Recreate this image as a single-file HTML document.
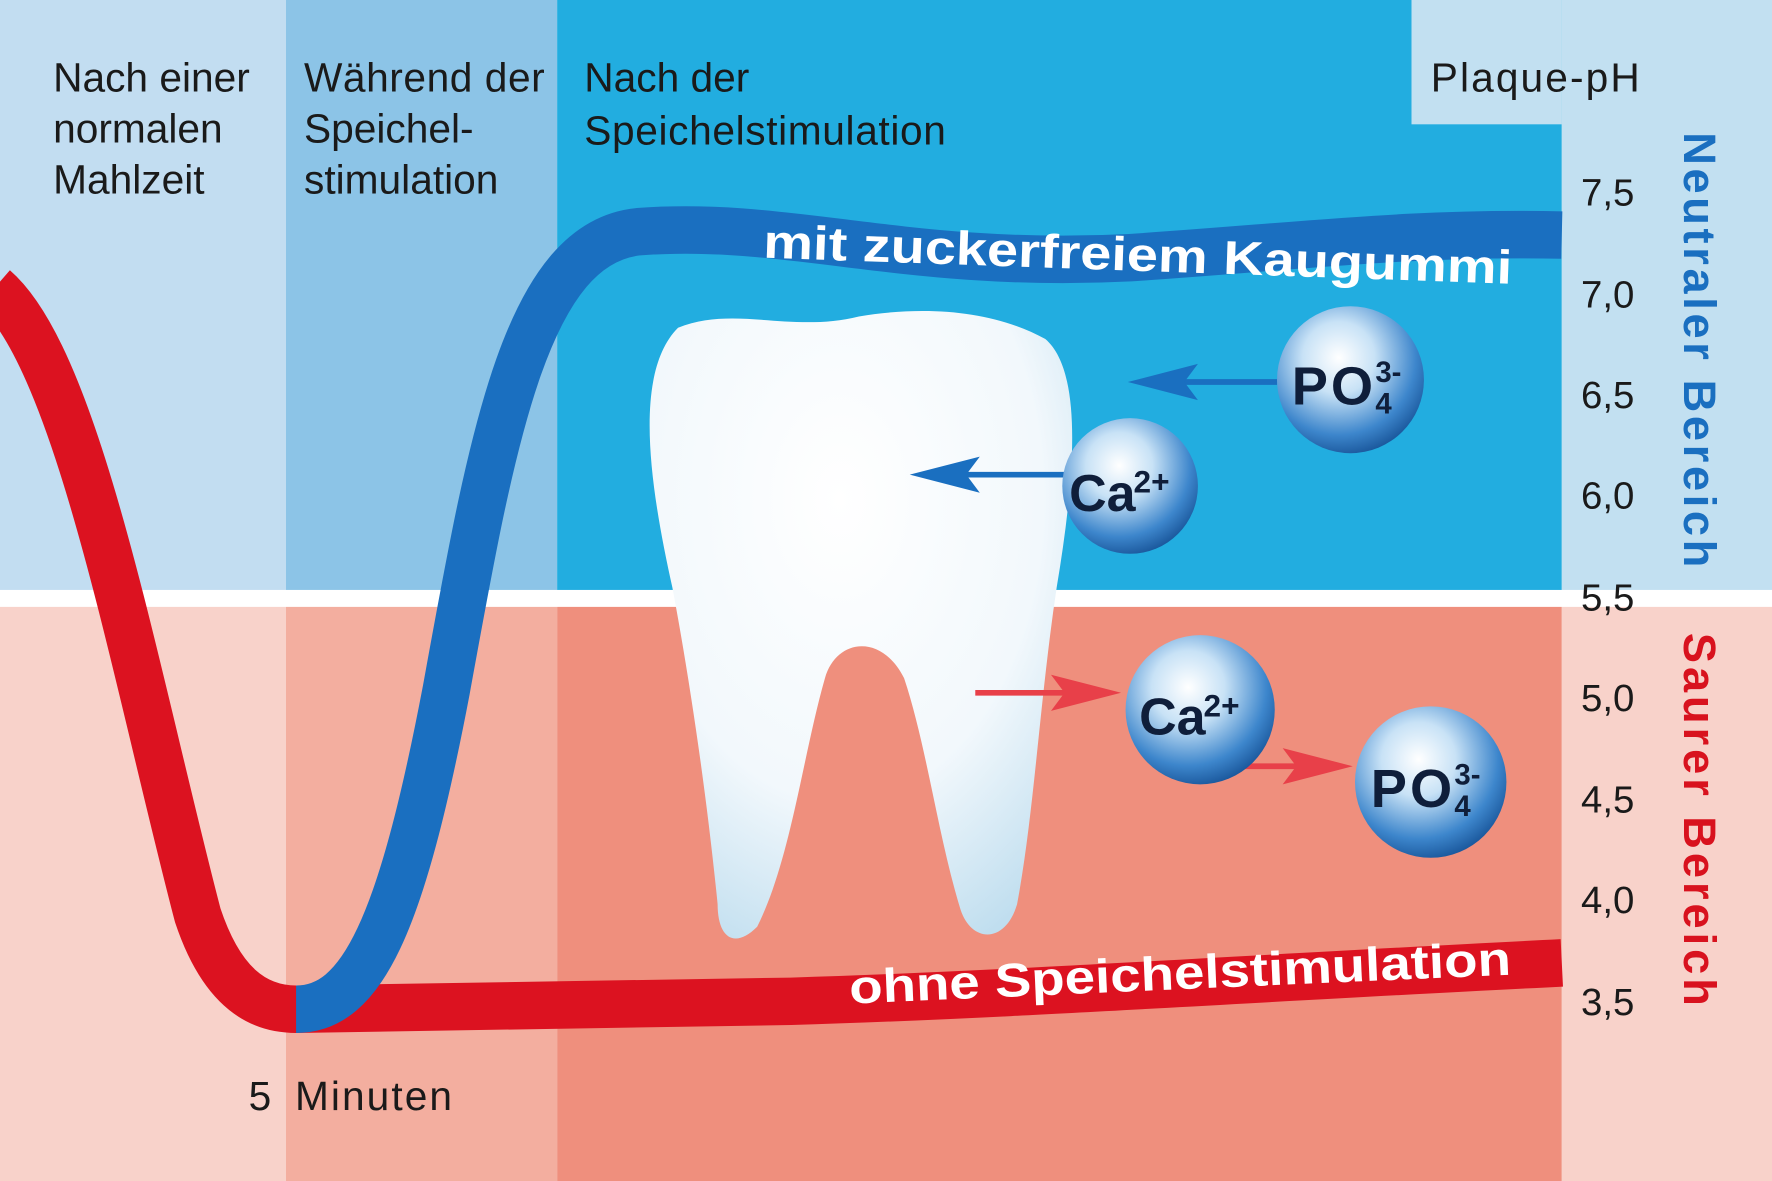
<!DOCTYPE html>
<html><head><meta charset="utf-8"><style>
html,body{margin:0;padding:0;width:1772px;height:1181px;overflow:hidden;background:#fff}
svg{display:block}
text{font-family:"Liberation Sans",sans-serif}
</style></head><body>
<svg width="1772" height="1181" viewBox="0 0 1568 1045" preserveAspectRatio="none" xmlns="http://www.w3.org/2000/svg">
<defs>
<radialGradient id="ion" cx="0.42" cy="0.35" r="0.7">
<stop offset="0" stop-color="#ffffff"/><stop offset="0.35" stop-color="#c8e2f6"/><stop offset="0.75" stop-color="#3d86cc"/><stop offset="1" stop-color="#144f93"/></radialGradient>
<radialGradient id="tooth" cx="0.45" cy="0.3" r="0.8">
<stop offset="0" stop-color="#ffffff"/><stop offset="0.6" stop-color="#f2f8fc"/><stop offset="1" stop-color="#bcdcee"/></radialGradient>
</defs>
<rect x="0" y="0" width="253" height="530" fill="#c2ddf1"/>
<rect x="253" y="0" width="240" height="530" fill="#8cc4e7"/>
<rect x="493" y="0" width="889" height="530" fill="#22ade0"/>
<rect x="1382" y="0" width="186" height="530" fill="#c2e0f1"/>
<rect x="1249" y="0" width="133" height="110" fill="#c2e0f1"/>
<rect x="0" y="530" width="253" height="515" fill="#f8d2ca"/>
<rect x="253" y="530" width="240" height="515" fill="#f3ae9f"/>
<rect x="493" y="530" width="889" height="515" fill="#ef8f7d"/>
<rect x="1382" y="530" width="186" height="515" fill="#f8d2ca"/>
<rect x="0" y="522" width="1568" height="15" fill="#ffffff"/>

<g font-size="36" fill="#1a1a1a">
<text x="47" y="81">Nach einer</text><text x="47" y="126">normalen</text><text x="47" y="171">Mahlzeit</text>
<text x="269" y="81" textLength="213">Während der</text><text x="269" y="126">Speichel-</text><text x="269" y="171">stimulation</text>
<text x="517" y="81">Nach der</text><text x="517" y="128" textLength="320">Speichelstimulation</text>
<text x="1266" y="81" textLength="185">Plaque-pH</text>
<text x="220" y="982">5</text><text x="261" y="982" textLength="139">Minuten</text>
</g>
<g font-size="34" fill="#1a1a1a">
<text x="1399" y="182">7,5</text><text x="1399" y="272">7,0</text><text x="1399" y="361">6,5</text>
<text x="1399" y="450">6,0</text><text x="1399" y="540">5,5</text><text x="1399" y="629">5,0</text>
<text x="1399" y="719">4,5</text><text x="1399" y="808">4,0</text><text x="1399" y="898">3,5</text>
</g>
<text transform="translate(1490,117) rotate(90)" font-size="40" font-weight="bold" fill="#1a6fc0" textLength="385">Neutraler Bereich</text>
<text transform="translate(1490,560) rotate(90)" font-size="40" font-weight="bold" fill="#d8121e" textLength="330">Saurer Bereich</text>

<path d="M-5,255 C70,320 120,600 175,810 C195,870 225,893 262,893 L700,886 C900,880 1100,866 1382,852" fill="none" stroke="#dc1220" stroke-width="42"/>
<path d="M262,893 C320,893 355,820 395,610 C435,390 465,215 565,205 C700,195 800,238 1000,228 C1150,218 1250,205 1382,208" fill="none" stroke="#1a6fc0" stroke-width="42"/>
<text transform="translate(675,228) rotate(2)" font-size="42" font-weight="bold" fill="#fff" textLength="663" lengthAdjust="spacingAndGlyphs">mit zuckerfreiem Kaugummi</text>
<text transform="translate(752,888) rotate(-2.5)" font-size="42" font-weight="bold" fill="#fff" textLength="586" lengthAdjust="spacingAndGlyphs">ohne Speichelstimulation</text>

<path d="M600,290 C650,270 700,295 760,280 C820,270 880,275 925,300 C960,330 950,430 935,520 C920,620 915,720 900,800 C890,835 860,835 850,805 C830,740 820,660 800,600 C780,560 740,565 730,600 C710,670 700,760 670,820 C650,840 635,830 635,800 C625,700 610,600 595,520 C575,430 560,330 600,290 Z" fill="url(#tooth)"/>

<g stroke-width="5" fill="none">
<line x1="1130" y1="338" x2="1020" y2="338" stroke="#1a6fc0"/>
<line x1="945" y1="420" x2="830" y2="420" stroke="#1a6fc0"/>
<line x1="863" y1="613" x2="965" y2="613" stroke="#e84049"/>
<line x1="1068" y1="678" x2="1170" y2="678" stroke="#e84049"/>
</g>
<polygon points="998,338 1060,322 1048,338 1060,354" fill="#1a6fc0"/>
<polygon points="805,420 867,404 855,420 867,436" fill="#1a6fc0"/>
<polygon points="992,613 930,597 942,613 930,629" fill="#e84049"/>
<polygon points="1197,678 1135,662 1147,678 1135,694" fill="#e84049"/>

<circle cx="1195" cy="336" r="65" fill="url(#ion)"/>
<circle cx="1000" cy="430" r="60" fill="url(#ion)"/>
<circle cx="1062" cy="628" r="66" fill="url(#ion)"/>
<circle cx="1266" cy="692" r="67" fill="url(#ion)"/>
<g font-weight="bold" fill="#0f1e3a">
<text x="1143" y="358" font-size="48" textLength="72">PO</text><text x="1217" y="338" font-size="26">3-</text><text x="1217" y="366" font-size="26">4</text>
<text x="946" y="452" font-size="46">Ca</text><text x="1003" y="436" font-size="28">2+</text>
<text x="1008" y="650" font-size="46">Ca</text><text x="1065" y="634" font-size="28">2+</text>
<text x="1213" y="714" font-size="48" textLength="72">PO</text><text x="1287" y="694" font-size="26">3-</text><text x="1287" y="722" font-size="26">4</text>
</g>
</svg>
</body></html>
